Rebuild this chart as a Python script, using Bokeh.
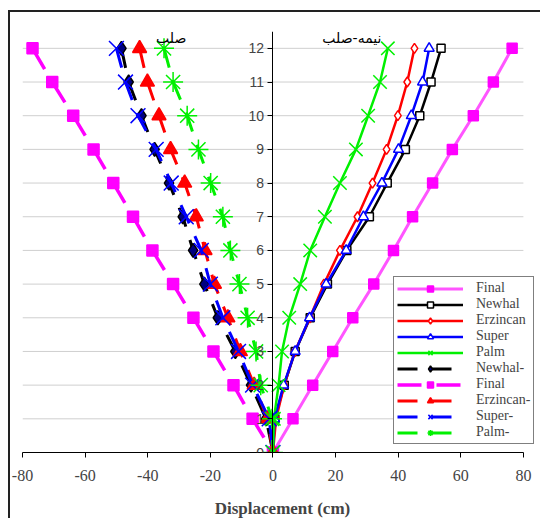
from bokeh.plotting import figure
from bokeh.models import Range1d, FixedTicker, Legend, LegendItem, Label
from bokeh.embed import file_html
from bokeh.resources import INLINE

# ---- data -------------------------------------------------------------
stories = [0, 1, 2, 3, 4, 5, 6, 7, 8, 9, 10, 11, 12]

# semi-rigid (right side)
final_semi    = [0, 6.4, 12.7, 19.1, 25.5, 32.2, 38.5, 44.6, 51.0, 57.3, 64.0, 70.4, 76.4]
newhal_semi   = [0, 0.6, 3.6, 7.1, 11.9, 17.4, 23.6, 30.8, 36.5, 42.3, 46.9, 50.5, 53.7]
erzincan_semi = [0, 1.0, 3.6, 7.0, 11.8, 16.3, 21.4, 27.0, 31.8, 36.3, 39.9, 42.9, 45.2]
super_semi    = [0, 0.5, 3.4, 7.1, 11.7, 17.0, 23.4, 28.9, 34.8, 40.1, 44.2, 47.8, 49.9]
palm_semi     = [0, 0.3, 1.8, 2.9, 5.2, 8.7, 11.9, 16.6, 21.4, 26.5, 30.4, 34.2, 36.7]

# rigid (left side)
newhal_rigid   = [0, -2.2, -7.0, -12.0, -17.6, -21.9, -25.5, -28.8, -33.2, -37.8, -42.0, -46.1, -48.4]
final_rigid    = [0, -6.5, -12.6, -19.0, -25.4, -31.9, -38.5, -44.7, -51.0, -57.3, -63.8, -70.5, -76.8]
erzincan_rigid = [0, -1.7, -6.0, -10.4, -14.4, -18.7, -21.7, -24.5, -28.2, -32.7, -36.4, -40.1, -42.6]
super_rigid    = [0, -1.2, -6.5, -11.0, -16.0, -20.0, -22.9, -27.7, -32.5, -37.3, -43.1, -47.1, -50.0]
palm_rigid     = [0, -0.3, -3.9, -5.4, -8.1, -10.7, -13.6, -16.0, -19.9, -23.8, -27.4, -31.9, -34.8]

x_ticks = [-80, -60, -40, -20, 0, 20, 40, 60, 80]
y_ticks = [0, 1, 2, 3, 4, 5, 6, 7, 8, 9, 10, 11, 12]
x_title = "Displacement (cm)"
side_labels = ["صلب", "نیمه-صلب"]

# ---- figure -----------------------------------------------------------
p = figure(width=532, height=508, output_backend="svg", toolbar_location=None,
           x_range=Range1d(-80, 86.1), y_range=Range1d(0, 12.5),
           min_border_left=12, min_border_right=0, min_border_top=19,
           min_border_bottom=68)
p.styles = {"border-left": "2px solid #222222", "border-top": "2px solid #222222",
            "margin-left": "8px", "margin-top": "10px"}
p.outline_line_color = None
p.background_fill_color = "white"
p.border_fill_color = "white"

p.xgrid.grid_line_color = None
p.ygrid.grid_line_color = None

# horizontal gridlines limited to the x axis extent
grid_y = y_ticks[1:]
p.segment(x0=[x_ticks[0]] * len(grid_y), x1=[x_ticks[-1]] * len(grid_y),
          y0=grid_y, y1=grid_y, line_color="#cfcfcf", line_width=1)

p.xaxis.ticker = FixedTicker(ticks=x_ticks)
p.xaxis.bounds = (x_ticks[0], x_ticks[-1])
p.xaxis.major_label_overrides = {v: str(v) for v in x_ticks}
p.xaxis.axis_label = x_title
p.xaxis.axis_label_text_font = "Liberation Serif"
p.xaxis.axis_label_text_font_style = "bold"
p.xaxis.axis_label_text_font_size = "17px"
p.xaxis.axis_label_standoff = 15
p.xaxis.major_label_text_font = "Liberation Serif"
p.xaxis.major_label_text_font_size = "16px"
p.xaxis.major_label_standoff = 12
p.xaxis.major_tick_in = 0
p.xaxis.major_tick_out = 5
p.xaxis.minor_tick_line_color = None
p.xaxis.axis_line_color = "black"
p.xaxis.major_tick_line_color = "black"

p.yaxis.fixed_location = 0
p.yaxis.ticker = FixedTicker(ticks=y_ticks)
p.yaxis.major_label_text_font = "Liberation Sans"
p.yaxis.major_label_text_font_size = "14px"
p.yaxis.major_label_standoff = 4
p.yaxis.major_tick_in = 0
p.yaxis.major_tick_out = 5
p.yaxis.minor_tick_line_color = None
p.yaxis.axis_line_color = "black"
p.yaxis.major_tick_line_color = "black"

items = []

def add(label, xs, color, width, dash, marker, size, fill, line_col=None, reverse=False):
    ys = stories
    if reverse:
        xs = xs[::-1]
        ys = stories[::-1]
    r1 = p.line(xs, ys, line_color=color, line_width=width, line_dash=dash)
    r2 = p.scatter(xs, ys, marker=marker, size=size, fill_color=fill,
                   line_color=line_col or color, line_width=1.5)
    items.append(LegendItem(label=label, renderers=[r1, r2]))

GREEN = "#00f000"
# semi-rigid
add("Final", final_semi, "#ff55ff", 3, "solid", "square", 10, "#ff00ff", "#ff00ff")
add("Newhal", newhal_semi, "black", 2.5, "solid", "square", 8, "white")
add("Erzincan", erzincan_semi, "#ff0000", 2.5, "solid", "diamond", 10, "white")
add("Super", super_semi, "#0000ff", 2.5, "solid", "triangle", 10, "white")
add("Palm", palm_semi, GREEN, 2.5, "solid", "x", 19, None)
# rigid
add("Newhal-", newhal_rigid, "black", 3, "20 14", "diamond", 14, "#000080", "black", True)
add("Final", final_rigid, "#ff00ff", 3.5, "24 15", "square", 11, "#ff00ff", "#ff00ff", True)
add("Erzincan-", erzincan_rigid, "#ff0000", 3, "20 14", "triangle", 14, "#ff0000", "#ff0000", True)
add("Super-", super_rigid, "#0000ff", 3, "20 14", "x", 21, None, "#0000ff", True)
add("Palm-", palm_rigid, GREEN, 3, "20 14", "asterisk", 20, None, GREEN, True)

legend = Legend(items=items, location=(371, 8), margin=0, padding=3,
                spacing=0, glyph_width=66, glyph_height=15, label_height=15,
                label_standoff=13, label_text_font="Liberation Serif",
                label_text_font_size="14px", border_line_color="black",
                border_line_width=1.5, background_fill_color="white",
                background_fill_alpha=1)
p.add_layout(legend)

for txt, xv in zip(side_labels, [-32.5, 25.2]):
    p.add_layout(Label(x=xv, y=12.3, text=txt, text_align="center",
                       text_baseline="middle", text_font="DejaVu Sans",
                       text_font_size="14px", text_color="black"))

open("out.html", "w").write(file_html(p, INLINE))
